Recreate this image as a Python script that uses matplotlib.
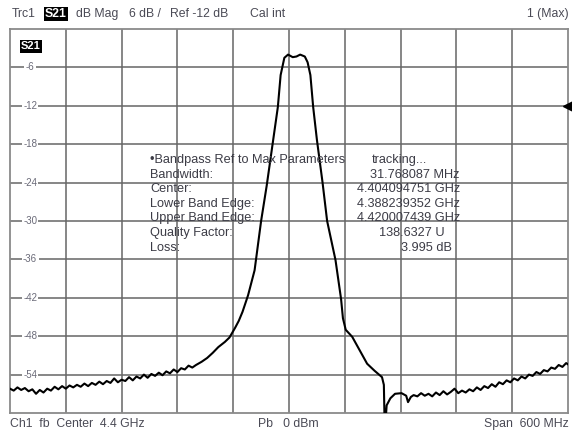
import matplotlib
matplotlib.use("Agg")
import matplotlib.pyplot as plt

# ---------------- TRACE DATA (S21, dB Mag) ----------------
freq_mhz = [
    4100, 4104, 4108, 4112, 4116, 4120, 4124, 4128, 4132, 4136,
    4140, 4144, 4148, 4152, 4156, 4160, 4164, 4168, 4172, 4176,
    4180, 4184, 4188, 4192, 4196, 4200, 4204, 4208, 4212, 4216,
    4220, 4224, 4228, 4232, 4236, 4240, 4244, 4248, 4252, 4256,
    4260, 4264, 4268, 4272, 4276, 4280, 4284, 4288, 4292, 4296,
    4300, 4306, 4312, 4318, 4324, 4331, 4336, 4342, 4346, 4350,
    4356, 4363, 4370, 4376, 4383, 4388, 4391, 4395, 4399, 4404,
    4408, 4412, 4417, 4420, 4423, 4426, 4430, 4436, 4441, 4450,
    4456, 4458, 4461, 4468, 4476, 4484, 4492, 4500, 4502, 4503,
    4505, 4509, 4514, 4521, 4526, 4528, 4531,
    4534, 4538, 4542, 4546, 4550, 4554, 4558, 4562, 4566, 4570,
    4574, 4578, 4582, 4586, 4590, 4594, 4598, 4602, 4606, 4610,
    4614, 4618, 4622, 4626, 4630, 4634, 4638, 4642, 4646, 4650,
    4654, 4658, 4662, 4666, 4670, 4674, 4678, 4682, 4686, 4690,
    4694, 4698, 4700,
]
s21_db = [
    -56.2, -56.5, -56.0, -56.4, -56.1, -56.6, -56.3, -57.0, -56.4, -56.8,
    -56.2, -56.5, -55.9, -56.3, -55.8, -56.2, -55.7, -56.0, -55.6, -55.9,
    -55.4, -55.8, -55.3, -55.6, -55.1, -55.5, -55.0, -55.3, -54.6, -55.2,
    -54.8, -55.0, -54.4, -54.9, -54.3, -54.6, -54.0, -54.5, -53.9, -54.2,
    -53.7, -54.1, -53.5, -53.8, -53.2, -53.6, -53.0, -53.2, -52.6, -52.9,
    -52.5, -52.0, -51.4, -50.6, -49.7, -48.9, -48.2, -46.7, -45.6, -44.2,
    -41.6, -37.7, -30.0, -24.5, -17.3, -12.2, -7.2, -4.5, -4.0, -4.4,
    -4.3, -4.0, -4.3, -5.2, -7.2, -12.2, -17.3, -23.9, -30.0, -36.1,
    -42.2, -45.2, -47.0, -48.1, -50.2, -52.3, -53.4, -54.4, -55.6, -63.0,
    -58.8, -57.7, -57.0, -56.9, -57.3, -58.3, -57.5,
    -57.2, -57.4, -56.9, -57.3, -57.0, -57.4, -56.8, -57.2, -56.6, -57.1,
    -56.7, -56.2, -56.9, -56.5, -56.8, -56.3, -56.6, -56.0, -56.4, -55.8,
    -56.1, -55.5, -55.9, -55.2, -55.5, -54.9, -55.2, -54.6, -54.9, -54.3,
    -54.6, -54.0, -54.2, -53.6, -53.9, -53.3, -53.5, -52.9, -53.1, -52.5,
    -52.8, -52.2, -52.4,
]

y_ticks = [-6, -12, -18, -24, -30, -36, -42, -48, -54]
ref_level = -12

param_labels = [
    "\u2022Bandpass Ref to Max Parameters",
    "Bandwidth:",
    "Center:",
    "Lower Band Edge:",
    "Upper Band Edge:",
    "Quality Factor:",
    "Loss:",
]
param_values = [
    "tracking...",
    "31.768087 MHz",
    "4.404094751 GHz",
    "4.388239352 GHz",
    "4.420007439 GHz",
    "138.6327 U",
    "3.995 dB",
]

# ---------------- FIGURE ----------------
plt.rcParams["font.family"] = ["Liberation Sans", "DejaVu Sans"]
W, H = 572, 432
fig = plt.figure(figsize=(W / 100, H / 100), dpi=100)
fig.patch.set_facecolor("white")

x0, x1, y0, y1 = 10, 568, 29, 413
ax = fig.add_axes([x0 / W, 1 - y1 / H, (x1 - x0) / W, (y1 - y0) / H])
ax.set_xlim(4100, 4700)
ax.set_ylim(-60, 0)

grid_col = "#666666"
for f in range(4160, 4700, 60):
    ax.axvline(f, color=grid_col, lw=1.1, zorder=1)
for t in y_ticks:
    ax.axhline(t, color=grid_col, lw=1.1, zorder=1)
for s in ax.spines.values():
    s.set_color("#8a8a8a")
    s.set_linewidth(1.3)
ax.set_xticks([])
ax.set_yticks([])

# tick labels sit on the grid lines inside the diagram
for t in y_ticks:
    ax.text(0.036, t, str(t), transform=ax.get_yaxis_transform(),
            ha="center", va="center", fontsize=7, color="#6a6a78",
            bbox=dict(facecolor="white", edgecolor="none", pad=1.0), zorder=2)

ax.plot(freq_mhz, s21_db, color="black", lw=1.5, zorder=4)

# reference level marker on the right edge
ax.plot([4700], [ref_level], marker="<", ms=7, color="black",
        clip_on=False, zorder=5)

# trace label inside the diagram
ax.text(0.02, 0.955, "S21", transform=ax.transAxes, ha="left", va="center",
        fontsize=8, fontweight="bold", color="white",
        bbox=dict(facecolor="black", edgecolor="none", pad=1.0), zorder=5)

# bandpass parameter table
fs_tab = 9.2
tx_left = 150
tx_right = [460, 460, 460, 460, 460, 445, 452]
tx_left_val = 372
for i, (lab, val) in enumerate(zip(param_labels, param_values)):
    yy = 1 - (160 + i * 14.6) / H
    fig.text(tx_left / W, yy, lab, ha="left", va="center", fontsize=fs_tab,
             color="#3c3c46", zorder=6)
    if i == 0:
        fig.text(tx_left_val / W, yy, val, ha="left", va="center",
                 fontsize=fs_tab, color="#3c3c46", zorder=6)
    else:
        fig.text(tx_right[i] / W, yy, val, ha="right", va="center",
                 fontsize=fs_tab, color="#3c3c46", zorder=6)

# ---------------- HEADER / FOOTER ----------------
hy = 1 - 14 / H
hc = "#4a4a55"
fs_hdr = 8.8
fig.text(12 / W, hy, "Trc1", ha="left", va="center", fontsize=fs_hdr, color=hc)
fig.text(45 / W, hy, "S21", ha="left", va="center", fontsize=fs_hdr,
         fontweight="bold", color="white",
         bbox=dict(facecolor="black", edgecolor="none", pad=1.0))
fig.text(76 / W, hy, "dB Mag", ha="left", va="center", fontsize=fs_hdr, color=hc)
fig.text(129 / W, hy, "6 dB /", ha="left", va="center", fontsize=fs_hdr, color=hc)
fig.text(170 / W, hy, "Ref -12 dB", ha="left", va="center", fontsize=fs_hdr, color=hc)
fig.text(250 / W, hy, "Cal int", ha="left", va="center", fontsize=fs_hdr, color=hc)
fig.text(569 / W, hy, "1 (Max)", ha="right", va="center", fontsize=fs_hdr, color=hc)

fy = 1 - 424 / H
fig.text(10 / W, fy, "Ch1  fb  Center  4.4 GHz", ha="left", va="center",
         fontsize=fs_hdr, color=hc)
fig.text(258 / W, fy, "Pb   0 dBm", ha="left", va="center", fontsize=fs_hdr, color=hc)
fig.text(569 / W, fy, "Span  600 MHz", ha="right", va="center",
         fontsize=fs_hdr, color=hc)

fig.savefig("out.png", dpi=100, facecolor="white")
